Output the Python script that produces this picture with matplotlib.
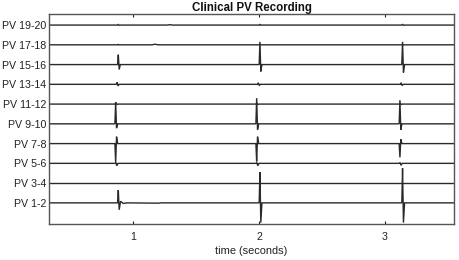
import matplotlib
matplotlib.use("Agg")
import matplotlib.pyplot as plt

plt.rcParams['font.family'] = ['Liberation Sans', 'DejaVu Sans']

# Channel labels, bottom to top
channels = ["PV 1-2", "PV 3-4", "PV 5-6", "PV 7-8", "PV 9-10",
            "PV 11-12", "PV 13-14", "PV 15-16", "PV 17-18", "PV 19-20"]

# Beat times (seconds) per channel for the three beats
beat_times = {
    "PV 1-2":   [0.881, 2.007, 3.141],
    "PV 3-4":   [0.881, 2.007, 3.141],
    "PV 5-6":   [0.862, 1.983, 3.122],
    "PV 7-8":   [0.860, 1.981, 3.120],
    "PV 9-10":  [0.860, 1.981, 3.120],
    "PV 11-12": [0.862, 1.983, 3.122],
    "PV 13-14": [0.872, 1.995, 3.130],
    "PV 15-16": [0.881, 2.007, 3.141],
    "PV 17-18": [0.881, 2.007, 3.141],
    "PV 19-20": [0.881, 2.007, 3.141],
}
# Positive peak amplitude per beat (in channel-spacing units)
peak_up = {
    "PV 1-2":   [0.65, 1.55, 1.75],
    "PV 3-4":   [0.0, 0.0, 0.0],
    "PV 5-6":   [0.04, 0.04, 0.04],
    "PV 7-8":   [0.35, 0.35, 0.22],
    "PV 9-10":  [1.10, 1.30, 1.20],
    "PV 11-12": [0.08, 0.06, 0.06],
    "PV 13-14": [0.10, 0.08, 0.08],
    "PV 15-16": [0.50, 1.15, 1.15],
    "PV 17-18": [0.02, 0.02, 0.02],
    "PV 19-20": [0.03, 0.04, 0.04],
}
# Negative peak amplitude per beat
peak_down = {
    "PV 1-2":   [0.35, 1.00, 1.00],
    "PV 3-4":   [0.0, 0.0, 0.0],
    "PV 5-6":   [0.12, 0.12, 0.10],
    "PV 7-8":   [0.95, 0.90, 0.70],
    "PV 9-10":  [0.22, 0.30, 0.30],
    "PV 11-12": [0.02, 0.02, 0.02],
    "PV 13-14": [0.08, 0.06, 0.06],
    "PV 15-16": [0.25, 0.35, 0.40],
    "PV 17-18": [0.01, 0.01, 0.01],
    "PV 19-20": [0.01, 0.01, 0.01],
}
# Which polarity comes first (True: up then down)
up_first = {
    "PV 1-2": True, "PV 3-4": True, "PV 5-6": True, "PV 7-8": False,
    "PV 9-10": True, "PV 11-12": True, "PV 13-14": True, "PV 15-16": True,
    "PV 17-18": True, "PV 19-20": True,
}
# Small after-potential wiggles: (time, value) extra points per channel
wiggles = {
    "PV 1-2": [(0.900, 0.08), (0.92, -0.03), (0.95, 0.0), (1.20, -0.015), (1.22, 0.0)],
    "PV 17-18": [(1.15, 0.0), (1.17, 0.03), (1.20, 0.0)],
    "PV 19-20": [(1.27, 0.0), (1.29, 0.02), (1.31, 0.0)],
}

t_start, t_end = 0.33, 3.55
xticks = [1, 2, 3]

fig = plt.figure(figsize=(4.59, 2.6), dpi=100)
ax = fig.add_axes([49/459, 36/260, 405/459, 210/260])

trace_color = "#2a2a2a"
for i, ch in enumerate(channels):
    base = i + 1
    pts = [(t_start, 0.0), (t_end, 0.0)]
    for k, t in enumerate(beat_times[ch]):
        up = peak_up[ch][k]
        dn = -peak_down[ch][k]
        first, second = (up, dn) if up_first[ch] else (dn, up)
        pts += [(t - 0.006, 0.0), (t, first), (t + 0.007, second), (t + 0.016, 0.0)]
    pts += wiggles.get(ch, [])
    pts.sort(key=lambda p: p[0])
    xs = [p[0] for p in pts]
    ys = [base + p[1] for p in pts]
    ax.plot(xs, ys, color=trace_color, lw=1.0, solid_joinstyle='miter')

ax.set_xlim(t_start, t_end)
ax.set_ylim(-0.07, 10.56)
ax.set_yticks(range(1, len(channels) + 1))
ax.set_yticklabels(channels, fontsize=7.7)
ax.set_xticks(xticks)
ax.set_xticklabels([str(x) for x in xticks], fontsize=7.7)
ax.tick_params(axis='x', direction='in', length=2.5, width=0.8, top=True, pad=6, colors='#222')
ax.tick_params(axis='y', length=0, pad=2, colors='#222')
for s in ax.spines.values():
    s.set_color('#555555')
    s.set_linewidth(1.0)
ax.set_xlabel("time (seconds)", fontsize=7.9, labelpad=3, color='#222')
ax.set_title("Clinical PV Recording", fontsize=8.3, fontweight='bold', pad=2.5, color='#111')

fig.savefig("out.png", dpi=100)
